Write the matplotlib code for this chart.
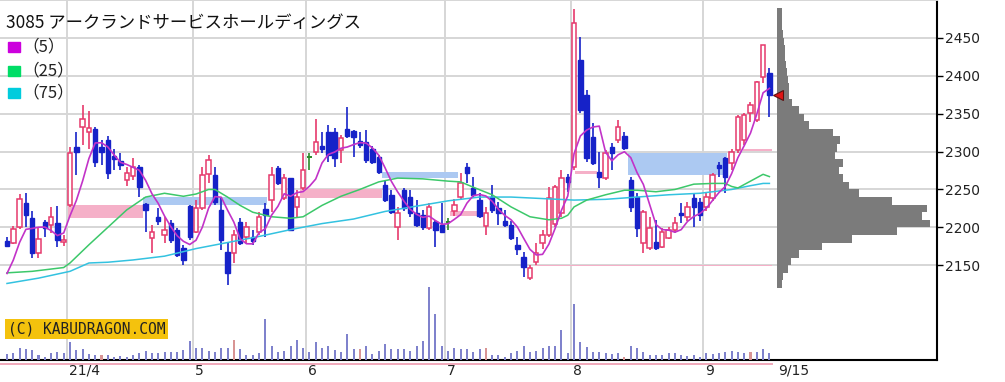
import matplotlib.pyplot as plt
import numpy as np
import pandas as pd
from matplotlib.patches import Rectangle

# ---- data ----
title = "3085 アークランドサービスホールディングス"

opens = [2182, 2179, 2200, 2232, 2212, 2166, 2207, 2203, 2206, 2181,
         2230, 2306, 2332, 2326, 2330, 2306, 2315, 2294, 2288, 2262,
         2268, 2280, 2231, 2186, 2214, 2190, 2206, 2197, 2173, 2228,
         2194, 2225, 2271, 2269, 2223, 2167, 2166, 2207, 2187, 2187,
         2194, 2224, 2236, 2278, 2239, 2265, 2227, 2252, 2293, 2300,
         2307, 2326, 2326, 2302, 2330, 2327, 2314, 2313, 2303, 2293,
         2256, 2243, 2200, 2249, 2240, 2219, 2216, 2199, 2207, 2203,
         2207, 2222, 2240, 2280, 2252, 2236, 2202, 2240, 2225, 2209,
         2203, 2177, 2161, 2133, 2154, 2179, 2190, 2205, 2219, 2266,
         2280, 2421, 2375, 2319, 2273, 2265, 2306, 2315, 2320, 2262,
         2240, 2179, 2173, 2181, 2174, 2186, 2196, 2219, 2214, 2239,
         2233, 2227, 2239, 2282, 2292, 2285, 2302, 2315, 2351, 2342,
         2399, 2404]
highs = [2187, 2202, 2244, 2245, 2221, 2199, 2210, 2227, 2228, 2190,
         2306, 2326, 2361, 2353, 2333, 2315, 2320, 2303, 2298, 2280,
         2291, 2282, 2232, 2203, 2226, 2214, 2210, 2199, 2177, 2229,
         2236, 2280, 2295, 2280, 2239, 2180, 2196, 2213, 2207, 2196,
         2220, 2232, 2280, 2281, 2270, 2265, 2249, 2298, 2298, 2343,
         2326, 2335, 2331, 2322, 2359, 2328, 2326, 2328, 2307, 2295,
         2262, 2249, 2227, 2252, 2249, 2236, 2223, 2232, 2210, 2232,
         2213, 2237, 2272, 2285, 2266, 2246, 2227, 2256, 2233, 2223,
         2209, 2187, 2167, 2150, 2179, 2197, 2253, 2256, 2276, 2271,
         2488, 2451, 2381, 2338, 2299, 2302, 2311, 2342, 2326, 2266,
         2245, 2223, 2214, 2210, 2199, 2200, 2214, 2232, 2234, 2245,
         2239, 2247, 2272, 2286, 2293, 2304, 2348, 2351, 2365, 2393,
         2441, 2410]
lows = [2174, 2178, 2198, 2200, 2159, 2159, 2187, 2192, 2174, 2176,
        2227, 2269, 2309, 2303, 2280, 2282, 2264, 2276, 2276, 2254,
        2262, 2240, 2194, 2166, 2203, 2179, 2179, 2161, 2150, 2183,
        2192, 2223, 2258, 2230, 2170, 2124, 2153, 2177, 2179, 2177,
        2190, 2187, 2220, 2256, 2236, 2195, 2214, 2249, 2276, 2296,
        2298, 2286, 2280, 2285, 2318, 2293, 2305, 2285, 2284, 2270,
        2233, 2218, 2183, 2222, 2214, 2200, 2197, 2197, 2174, 2192,
        2196, 2215, 2236, 2258, 2240, 2213, 2190, 2219, 2203, 2200,
        2183, 2163, 2134, 2130, 2150, 2172, 2187, 2200, 2214, 2247,
        2276, 2351, 2286, 2282, 2252, 2262, 2276, 2311, 2302, 2220,
        2187, 2166, 2170, 2170, 2173, 2185, 2192, 2206, 2209, 2200,
        2209, 2222, 2235, 2266, 2245, 2276, 2298, 2309, 2339, 2339,
        2391, 2346]
closes = [2176, 2198, 2237, 2216, 2166, 2184, 2199, 2214, 2183, 2183,
          2298, 2299, 2343, 2331, 2286, 2299, 2272, 2290, 2282, 2272,
          2280, 2253, 2223, 2194, 2208, 2197, 2183, 2163, 2157, 2187,
          2225, 2269, 2289, 2233, 2183, 2140, 2190, 2179, 2200, 2182,
          2214, 2216, 2269, 2258, 2265, 2197, 2240, 2276, 2293, 2313,
          2303, 2296, 2292, 2318, 2321, 2319, 2309, 2289, 2286, 2273,
          2236, 2220, 2219, 2225, 2219, 2203, 2200, 2227, 2196, 2194,
          2207, 2229, 2258, 2272, 2243, 2215, 2219, 2223, 2219, 2203,
          2186, 2172, 2148, 2146, 2166, 2190, 2239, 2253, 2265, 2260,
          2470, 2355, 2292, 2285, 2266, 2298, 2298, 2332, 2305, 2227,
          2199, 2220, 2199, 2173, 2194, 2196, 2206, 2216, 2227, 2227,
          2216, 2240, 2269, 2278, 2267, 2300, 2346, 2348, 2361, 2392,
          2441, 2375]
# closes of the four sessions before the window (for the 5-day average)
prev_closes = [2110, 2120, 2130, 2160]

volumes = [600, 670, 1200, 1100, 1000, 500, 350, 700, 800, 700,
           1800, 1000, 1100, 600, 500, 500, 500, 350, 400, 300,
           500, 700, 900, 700, 700, 800, 800, 800, 1000, 1900,
           1200, 1200, 900, 800, 1200, 1200, 2000, 1100, 500, 500,
           700, 4100, 1400, 800, 900, 1400, 2000, 1200, 800, 1800,
           1200, 1400, 1000, 800, 2600, 1100, 1100, 1400, 600, 900,
           1600, 1100, 1100, 1100, 900, 1400, 1900, 7300, 4600, 1400,
           900, 1200, 1100, 1100, 800, 1100, 1200, 500, 500, 350,
           700, 900, 1400, 800, 900, 1200, 1400, 1400, 3000, 700,
           5600, 1800, 1300, 800, 800, 700, 600, 700, 350, 1400,
           1200, 800, 500, 500, 500, 700, 700, 500, 400, 500,
           350, 700, 600, 700, 800, 900, 800, 700, 800, 800,
           1100, 700]
pink_volume_days = [15, 36, 56, 76, 98, 118]

ma25_days = [0, 4, 9, 10, 13, 16, 19, 22, 25, 28, 30, 32, 33, 35, 37, 39, 42, 45,
             47, 50, 53, 56, 59, 62, 66, 70, 72, 74, 77, 80, 83, 86, 88, 89, 90,
             92, 95, 98, 100, 103, 106, 109, 112, 114, 115, 116, 118, 120, 121]
ma25 = [2140, 2142, 2147, 2153, 2177, 2200, 2223, 2240, 2245, 2241, 2244, 2250,
        2250, 2240, 2229, 2220, 2214, 2212, 2214, 2229, 2241, 2250, 2260, 2265,
        2264, 2261, 2260, 2253, 2243, 2227, 2214, 2210, 2212, 2216, 2227, 2236,
        2243, 2249, 2249, 2247, 2250, 2257, 2258, 2258, 2254, 2252, 2261, 2270,
        2267]
ma75_days = [0, 5, 10, 13, 16, 20, 25, 30, 35, 40, 45, 50, 55, 60, 65, 70, 75,
             80, 85, 90, 95, 100, 105, 110, 115, 118, 120, 121]
ma75 = [2126, 2133, 2142, 2153, 2154, 2157, 2162, 2172, 2180, 2188, 2197, 2205,
        2211, 2221, 2228, 2235, 2240, 2240, 2238, 2236, 2237, 2240, 2243, 2245,
        2250, 2255, 2258, 2258]

month_days = [9.5, 29.5, 47.5, 69.5, 89.5, 110.5]
month_labels = ["21/4", "5", "6", "7", "8", "9"]
last_label = "9/15"

# price-band volume profile (bin lower edges, width 10)
profile_prices = list(range(2120, 2490, 10))
profile_volume = [5, 6, 11, 14, 22, 45, 75, 120, 153, 145, 150, 115, 82, 72, 66,
                  62, 66, 58, 60, 63, 56, 32, 27, 22, 15, 12, 12, 11, 10, 9, 8,
                  8, 7, 6, 5, 5, 5]

# shaded price zones (start day, end day, low, high, kind)
zone_start = [9.7, 21.6, 46.5, 59.5, 70.3, 90.2, 98.6, 83.8, 116.8]
zone_end = [21.6, 41.3, 59.5, 71.6, 74.6, 93.7, 114.3, 121.4, 121.4]
zone_low = [2212, 2229, 2239, 2265, 2215, 2270, 2269, 2149, 2301]
zone_high = [2229, 2240, 2251, 2273, 2222, 2275, 2298, 2151, 2303]
zone_kind = ["pink", "blue", "pink", "blue", "pink", "pink", "blue", "pink", "pink"]

# ---- style ----
RED = "#e6396c"
BLUE = "#1622c8"
GREEN = "#2a8a2a"
zone_colors = {"pink": "#f5b0c8", "blue": "#acc9f2"}
W, H = 1005, 382
AX_R, AX_B = 937, 360

fig = plt.figure(figsize=(W / 100, H / 100), dpi=100)
ax = fig.add_axes([0, 1 - AX_B / H, AX_R / W, AX_B / H])

n = len(closes)
x = np.arange(n)
o = np.array(opens)
c = np.array(closes)
hi = np.array(highs)
lo = np.array(lows)

# volume on a twin scale (created first so the price ticks stay on the right)
vax = ax.twinx()
vax.set_ylim(0, 36000)
vcol = ["#d89494" if i in pink_volume_days else "#7f82cc" for i in range(n)]
vax.bar(x, volumes, width=0.32, color=vcol, zorder=2)
vax.axis("off")

ax.set_xlim(-1.11, 147.6)
ax.set_ylim(2025, 2500)

# zones
for s, e, zl, zh, k in zip(zone_start, zone_end, zone_low, zone_high, zone_kind):
    ax.fill_between([s, e], zl, zh, color=zone_colors[k], lw=0, zorder=1)

# candles
up = c > o
dn = c < o
fl = c == o
bw = 0.7
ax.vlines(x[up], lo[up], hi[up], color=RED, lw=1.2, zorder=3)
ax.bar(x[up], np.maximum(c[up] - o[up], 2), bottom=o[up], width=bw,
       facecolor="white", edgecolor=RED, lw=1.1, zorder=4)
ax.vlines(x[dn], lo[dn], hi[dn], color=BLUE, lw=1.2, zorder=3)
ax.bar(x[dn], np.maximum(o[dn] - c[dn], 2), bottom=c[dn], width=bw,
       facecolor=BLUE, edgecolor=BLUE, lw=1.0, zorder=4)
ax.vlines(x[fl], lo[fl], hi[fl], color=GREEN, lw=1.2, zorder=3)
ax.hlines(c[fl], x[fl] - bw / 2, x[fl] + bw / 2, color=GREEN, lw=1.4, zorder=4)

# moving averages
ma5 = pd.Series(prev_closes + closes).rolling(5).mean().to_numpy()[len(prev_closes):]
ax.plot(ma75_days, ma75, color="#33c2e0", lw=1.1, zorder=5)
ax.plot(ma25_days, ma25, color="#3cc86a", lw=1.1, zorder=5)
ax.plot(x, ma5, color="#c233c8", lw=1.2, zorder=6)

# grid / axes
ax.yaxis.tick_right()
ax.yaxis.set_label_position("right")
ax.set_yticks(range(2150, 2451, 50))
ax.set_xticks(month_days)
ax.set_xticklabels([])
ax.grid(True, color="#d6d6d6", lw=1.4, zorder=0)
ax.set_axisbelow(True)
ax.tick_params(axis="y", which="both", left=False, right=True, labelleft=False,
               labelright=True, length=4, width=1, labelsize=10, pad=2,
               labelcolor="#222222")
ax.tick_params(axis="x", length=0)
ax.spines["left"].set_visible(False)
ax.spines["top"].set_color("#d6d6d6")
ax.spines["top"].set_linewidth(1.4)
ax.spines["right"].set_linewidth(1.5)
ax.spines["bottom"].set_linewidth(1.5)

for d, lab in zip(month_days, month_labels):
    ax.annotate(lab, xy=(d, 0), xycoords=("data", "axes fraction"), xytext=(2, -4),
                textcoords="offset pixels", ha="left", va="top", fontsize=10,
                color="#222222")
ax.annotate(last_label, xy=(n - 1, 0), xycoords=("data", "axes fraction"),
            xytext=(9, -4), textcoords="offset pixels", ha="left", va="top",
            fontsize=10, color="#222222")
ax.plot([-1.11, n - 0.6], [-4 / AX_B, -4 / AX_B], transform=ax.get_xaxis_transform(),
        clip_on=False, color="#f0a8ba", lw=1.4)


def axfrac(px, py):
    return px / AX_R, (AX_B - py) / AX_B


# title and legend
cjk = ["Noto Sans CJK JP", "DejaVu Sans"]
ax.text(*axfrac(6, 23), title, transform=ax.transAxes, fontsize=12.5, family=cjk,
        ha="left", va="center", color="#111111", zorder=10)
for (col, lab), py in zip([("#cc00dd", "（5）"), ("#00dd66", "（25）"), ("#00ccdd", "（75）")],
                          [47, 71, 93]):
    ax.add_patch(Rectangle(axfrac(8, py + 5), 12 / AX_R, 10 / AX_B, transform=ax.transAxes,
                           color=col, zorder=10))
    ax.text(*axfrac(22, py), lab, transform=ax.transAxes, fontsize=12, family=cjk,
            ha="left", va="center", color="#222222", zorder=10)

ax.text(*axfrac(8, 329), "(C) KABUDRAGON.COM", transform=ax.transAxes,
        fontsize=10.5, family="DejaVu Sans Mono", ha="left", va="center",
        color="#222222", zorder=10,
        bbox=dict(boxstyle="square,pad=0.2", facecolor="#f4c20d", edgecolor="none"))

# volume-by-price profile
pax = fig.add_axes([777 / W, 1 - AX_B / H, (AX_R - 777) / W, AX_B / H])
pax.barh(profile_prices, profile_volume, height=10, align="edge", color="#7b7b7b", lw=0)
pax.set_xlim(0, 160)
pax.set_ylim(2025, 2500)
pax.axis("off")
pax.plot(0.5, closes[-1], marker="<", ms=7, color="#e01515", mec="#5a1010", mew=0.8,
         clip_on=False, zorder=6)

fig.savefig("out.png", dpi=100)
